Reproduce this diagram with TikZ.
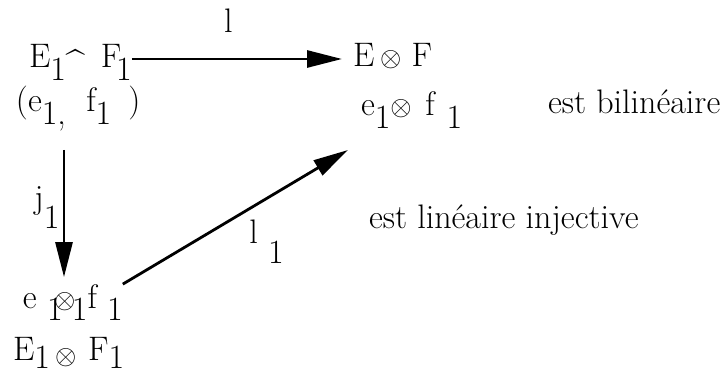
\documentclass[tikz,border=0pt]{standalone}
\usepackage{tikz}
\usetikzlibrary{arrows.meta}
\newcommand{\dn}[1]{\raisebox{-0.36em}[0pt][0pt]{#1}}
\newcommand{\dnj}[1]{\raisebox{-0.6em}[0pt][0pt]{#1}}
\newcommand{\ot}{\scalebox{1.1}{$\otimes$}}
\newcommand{\crt}{\raisebox{-0.2em}[0pt][0pt]{\textasciicircum}}

\begin{document}
\begin{tikzpicture}[
  x=1pt, y=-1pt,
  txt/.style={inner sep=0pt, outer sep=0pt, anchor=base west, font=\fontsize{34}{40}\selectfont},
  lbl/.style={inner sep=0pt, outer sep=0pt, font=\fontsize{34}{40}\selectfont},
  arr/.style={-{Triangle[length=35pt,width=17pt]}, line width=2.8pt}
]
\useasboundingbox (0,0) rectangle (725,374);
% objets
\node[txt] (prod) at (29,68) {E\dn{1}\crt\hspace{0.47em}F\hspace{-0.15em}\dn{1}};
\node[txt] (tens) at (353,67) {E\,\ot\hspace{0.3em}F};
\node[txt] (pair) at (16,112) {(e\dn{1,}\hspace{0.6em}f\dn{1}\hspace{0.5em})};
\node[txt] (img) at (361,116) {e\dn{1}\ot\hspace{0.4em}f\hspace{0.35em}\dn{1}};
\node[txt] (bil) at (548,114) {est bilinéaire};
\node[txt] (inj) at (369,228) {est linéaire injective};
\node[txt] (low) at (23,308) {e\hspace{0.3em}\dn{1}\hspace{-0.25em}\ot\hspace{-0.1em}\dn{1}f\hspace{0.3em}\dn{1}};
\node[txt] (sub) at (13,360) {E\raisebox{-0.25em}[0pt][0pt]{1}\hspace{0.15em}\raisebox{-0.12em}{\ot}\hspace{0.35em}F\raisebox{-0.25em}[0pt][0pt]{1}};
\coordinate (jtop) at (64,150);
\coordinate (dtip) at (348,150);
% fleches
\draw[arr, shorten >=11pt] ([yshift=9pt]prod.base east) -- ([yshift=9pt]prod.base east -| tens.west)
  node[lbl, midway, above=26pt, xshift=-14pt] (l) {l};
\draw[arr, shorten >=7pt] (jtop) -- (jtop |- low.north)
  node[lbl, midway, left=4.6pt, yshift=16pt] (j) {j\dnj{1}};
\draw[arr] (low.north east) -- (dtip)
  node[lbl, midway, anchor=north west, xshift=14pt, yshift=-2.4pt] (l1) {l\ \dnj{1}};
\end{tikzpicture}
\end{document}
